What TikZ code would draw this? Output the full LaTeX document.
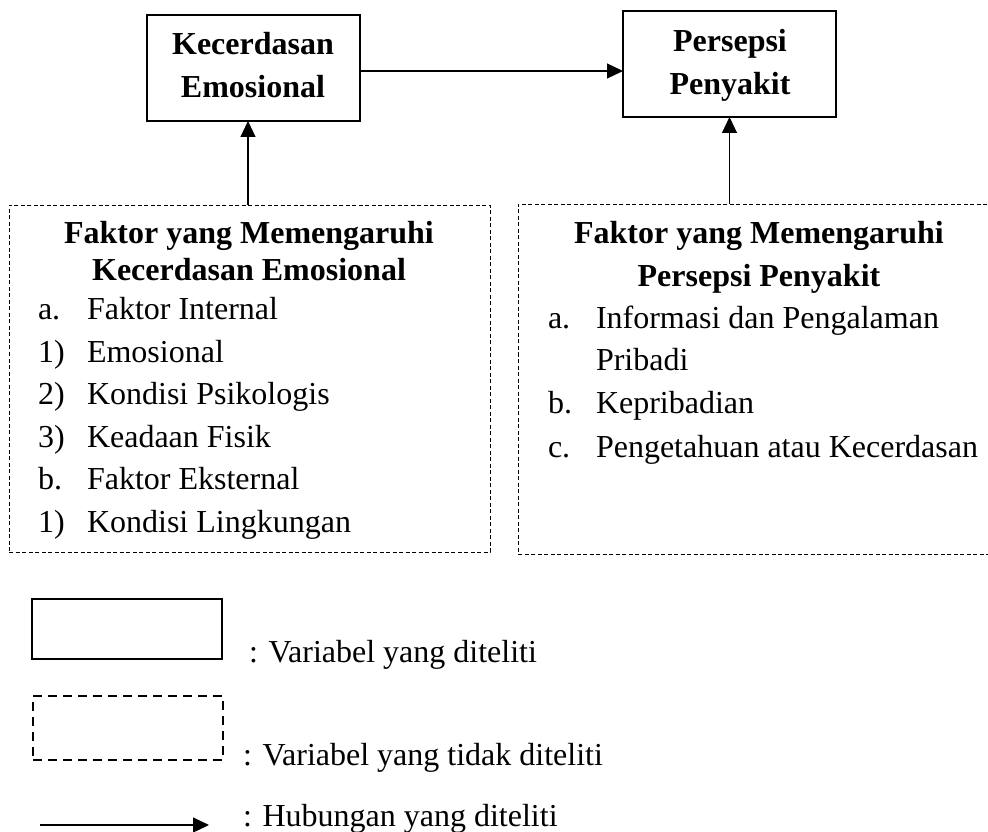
\documentclass[tikz,border=0pt]{standalone}
\usepackage{fontspec}
\setmainfont{Liberation Serif}
\usetikzlibrary{arrows.meta}
\begin{document}
\begin{tikzpicture}[x=1pt,y=-1pt,
  every node/.style={inner sep=0pt, outer sep=0pt},
  txt/.style={font=\fontsize{32}{38}\selectfont, anchor=base west},
  ttl/.style={font=\fontsize{32}{38}\selectfont\bfseries, anchor=base},
  varbox/.style={draw, line width=1.2pt, minimum width=213pt, minimum height=106pt},
  dbox/.style={draw, line width=1pt, dash pattern=on 4pt off 2.5pt},
  conn/.style={line width=1.2pt, -{Triangle[length=16pt,width=15pt]}}
]
\useasboundingbox (0,0) rectangle (988,832);

% main variable boxes
\node[varbox] (ke) at (253.5,68) {};
\node[varbox] (pp) at (729.5,64) {};
\node[ttl] (ke1) at (253,55) {Kecerdasan};
\node[ttl] (ke2) at (253,98) {Emosional};
\node[ttl] (pp1) at (730,52) {Persepsi};
\node[ttl] (pp2) at (730,95) {Penyakit};

% dashed factor boxes
\node[dbox, minimum width=481pt, minimum height=347pt] (fk) at (249.5,378.5) {};
\node[dbox, minimum width=482pt, minimum height=350pt] (fp) at (759,379) {};

% connectors
\coordinate (ha) at (360,71);
\coordinate (hb) at (623,71);
\draw[conn] (ke.east |- ha) -- (pp.west |- hb);
\coordinate (va) at (248,205);
\draw[conn] (va) -- (va |- ke.south);
\draw[conn] (pp.south |- fp.north) -- (pp.south);

% left factor text
\node[ttl] (fk1) at (249,243) {Faktor yang Memengaruhi};
\node[ttl] (fk2) at (249,280) {Kecerdasan Emosional};
\node[txt] (la1) at (38,319) {a.};  \node[txt] (lt1) at (87,319) {Faktor Internal};
\node[txt] (la2) at (38,362) {1)};  \node[txt] (lt2) at (87,362) {Emosional};
\node[txt] (la3) at (38,404) {2)};  \node[txt] (lt3) at (87,404) {Kondisi Psikologis};
\node[txt] (la4) at (38,447) {3)};  \node[txt] (lt4) at (87,447) {Keadaan Fisik};
\node[txt] (la5) at (38,489) {b.};  \node[txt] (lt5) at (87,489) {Faktor Eksternal};
\node[txt] (la6) at (38,532) {1)};  \node[txt] (lt6) at (87,532) {Kondisi Lingkungan};

% right factor text
\node[ttl] (fp1) at (759,243) {Faktor yang Memengaruhi};
\node[ttl] (fp2) at (759,286) {Persepsi Penyakit};
\node[txt] (ra1) at (548,328) {a.};  \node[txt] (rt1) at (596,328) {Informasi dan Pengalaman};
\node[txt] (rt1b) at (596,370) {Pribadi};
\node[txt] (ra2) at (548,413) {b.};  \node[txt] (rt2) at (596,413) {Kepribadian};
\node[txt] (ra3) at (548,457) {c.};  \node[txt] (rt3) at (596,457) {Pengetahuan atau Kecerdasan};

% legend
\node[draw, line width=2.4pt, minimum width=190pt, minimum height=60pt] (lg1) at (127,629) {};
\node[txt] (lg1t) at (249,662) {: Variabel yang diteliti};
\node[draw, line width=2pt, dash pattern=on 9pt off 6pt, minimum width=190pt, minimum height=64pt] (lg2) at (128,728) {};
\node[txt] (lg2t) at (243,765) {: Variabel yang tidak diteliti};
\coordinate (lga) at (40,825);
\coordinate (lgb) at (209,825);
\draw[conn] (lga) -- (lgb);
\node[txt] (lg3t) at (243,826) {: Hubungan yang diteliti};
\end{tikzpicture}
\end{document}
